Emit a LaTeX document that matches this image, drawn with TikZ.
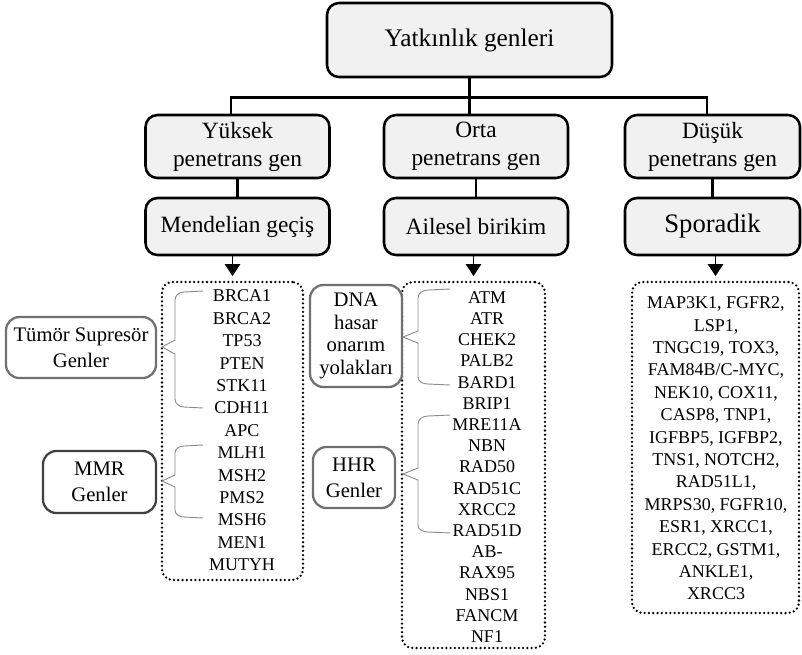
\documentclass[tikz,border=0pt]{standalone}
\usepackage{fontspec}
\setmainfont{Liberation Serif}
\usetikzlibrary{positioning,arrows.meta,fit}
\definecolor{boxgray}{HTML}{F1F1F2}
\definecolor{sidegray}{HTML}{707070}
\definecolor{bracegray}{HTML}{8C8C8C}

\begin{document}
\begin{tikzpicture}[x=0.75pt, y=-0.75pt,
    mainbox/.style={draw=black, fill=boxgray, line width=1.9pt, rounded corners=9pt, align=center, inner sep=0pt},
    levelbox/.style={mainbox, minimum width=138pt, minimum height=47.25pt, font=\fontsize{17.5}{21}\selectfont},
    kindbox/.style={mainbox, minimum width=138pt, minimum height=42.75pt, font=\fontsize{17.5}{21}\selectfont},
    sidebox/.style={draw=sidegray, fill=white, line width=1.7pt, rounded corners=10pt, align=center, inner sep=0pt, font=\fontsize{15.5}{19.5}\selectfont},
    listbox/.style={draw=black, line width=1.9pt, dash pattern=on 0pt off 3.2pt, line cap=round, rounded corners=8pt, inner sep=0pt},
    genes/.style={align=center, inner sep=0pt, font=\fontsize{13.5}{16.8}\selectfont},
    link/.style={line width=1.9pt},
    arrow/.style={line width=1.4pt, -{Triangle[width=11.5pt,length=9pt]}, shorten >=3.5pt},
    curly/.style={draw=bracegray, line width=0.7pt}]
    \useasboundingbox (0,0) rectangle (802,654);

    % Top of the tree
    \node[mainbox, minimum width=213.75pt, minimum height=55.5pt, font=\fontsize{19}{23}\selectfont] (top) at (469.5,40) {Yatkınlık genleri};

    % Penetrance levels
    \node[levelbox] (yuksek) at (237.5,146.5) {Yüksek\\penetrans gen};
    \node[levelbox] (orta) at (476,146.5) {Orta\\penetrans gen};
    \node[levelbox, minimum width=131.25pt] (dusuk) at (712.5,146.5) {Düşük\\penetrans gen};

    % Inheritance
    \node[kindbox] (mendel) at (237.5,226.5) {Mendelian geçiş};
    \node[kindbox] (ailesel) at (476,226.5) {Ailesel birikim};
    \node[kindbox, minimum width=131.25pt, font=\fontsize{20}{24}\selectfont] (sporadik) at (712.5,226.5) {Sporadik};

    % Tree lines
    \draw[link] (top.south) -- ++(0,19) -| ([xshift=-5pt]yuksek.north);
    \draw[link] (top.south) -- ++(0,19) -| ([xshift=-4pt]dusuk.north);
    \draw[link] (top.south) -- (top.south |- orta.north);
    \draw[link] (yuksek) -- (mendel);
    \draw[link] (orta) -- (ailesel);
    \draw[link] (dusuk) -- (sporadik);

    % Gene lists
    \node[listbox, fit={(162,282) (303,580)}] (mendbox) {};
    \node[listbox, fit={(402,282) (545,648)}] (ailebox) {};
    \node[listbox, fit={(632,282) (799,613)}] (sporbox) {};

    \node[genes] (mendgenes) at (242,430.5) {BRCA1\\BRCA2\\TP53\\PTEN\\STK11\\CDH11\\APC\\MLH1\\MSH2\\PMS2\\MSH6\\MEN1\\MUTYH};
    \node[genes, font=\fontsize{13.5}{15.9}\selectfont] (ailegenes) at (487,467) {ATM\\ATR\\CHEK2\\PALB2\\BARD1\\BRIP1\\MRE11A\\NBN\\RAD50\\RAD51C\\XRCC2\\RAD51D\\AB-\\RAX95\\NBS1\\FANCM\\NF1};
    \node[genes] (sporgenes) at (716,448.5) {MAP3K1, FGFR2,\\LSP1,\\TNGC19, TOX3,\\FAM84B/C-MYC,\\NEK10, COX11,\\CASP8, TNP1,\\IGFBP5, IGFBP2,\\TNS1, NOTCH2,\\RAD51L1,\\MRPS30, FGFR10,\\ESR1, XRCC1,\\ERCC2, GSTM1,\\ANKLE1,\\XRCC3};

    \draw[arrow] (mendel.south -| mendbox.north) -- (mendbox.north);
    \draw[arrow] (ailesel.south -| ailebox.north) -- (ailebox.north);
    \draw[arrow] (sporadik.south -| sporbox.north) -- (sporbox.north);

    % Gene groups
    \node[sidebox, minimum width=112.5pt, minimum height=45.75pt] (tumor) at (81,347.5) {Tümör Supresör\\Genler};
    \node[sidebox, draw=black!75, minimum width=84.75pt, minimum height=46.5pt] (mmr) at (99.5,482) {MMR\\Genler};
    \node[sidebox, minimum width=69pt, minimum height=76.5pt, font=\fontsize{15.5}{17}\selectfont] (dna) at (356,336) {DNA\\hasar\\onarım\\yolakları};
    \node[sidebox, minimum width=61.5pt, minimum height=45.75pt] (hhr) at (354,477.5) {HHR\\Genler};

    % Braces
    \draw[curly] (203,291) -- (184,292) to[out=180,in=90] (175,300) -- (175,340) -- (162,347) -- (175,354) -- (175,399) to[out=-90,in=180] (184,407) -- (203,408);
    \draw[curly] (203,445) -- (184,446) to[out=180,in=90] (175,453) -- (175,475) -- (162,481) -- (175,487) -- (175,510) to[out=-90,in=180] (184,517) -- (203,518);
    \draw[curly] (450,289) -- (428,290) to[out=180,in=90] (418,298) -- (418,331) -- (403,337) -- (418,343) -- (418,377) to[out=-90,in=180] (428,384) -- (450,385);
    \draw[curly] (450,415) -- (428,416) to[out=180,in=90] (418,424) -- (418,468) -- (403,474) -- (418,480) -- (418,525) to[out=-90,in=180] (428,532) -- (450,533);
\end{tikzpicture}
\end{document}
